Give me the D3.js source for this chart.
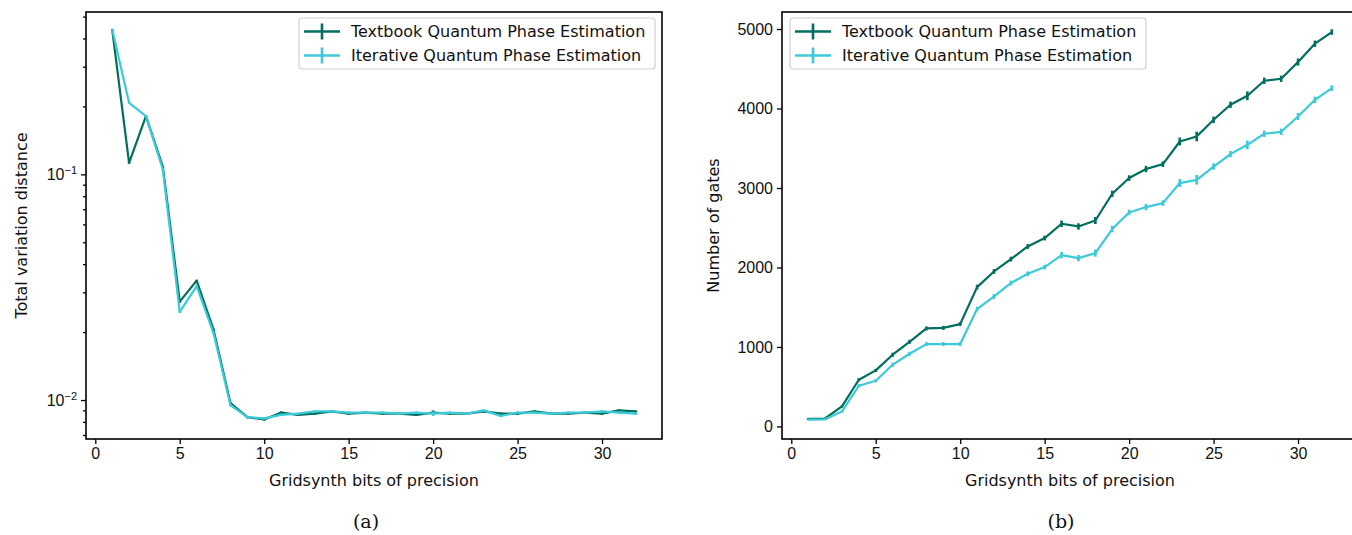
<!DOCTYPE html>
<html>
<head>
<meta charset="utf-8">
<script src="https://cdn.jsdelivr.net/npm/d3@7"></script>
<style>
  body { margin: 0; background: #fff; }
  svg { font-family: "DejaVu Sans", sans-serif; }
  .cap { font-family: "DejaVu Serif", "Liberation Serif", serif; }
</style>
</head>
<body>
<svg id="fig" width="1352" height="535"></svg>
<script>
// bits of precision passed to gridsynth
var bits = d3.range(1, 33);

// total variation distance (left panel)
var tvdTextbook = [0.439, 0.1125, 0.181, 0.108, 0.0273, 0.0338, 0.0205, 0.0097, 0.0084, 0.0082,
  0.0088, 0.0086, 0.0087, 0.0089, 0.0087, 0.0088, 0.0087, 0.0087, 0.0086, 0.0088,
  0.0087, 0.0087, 0.0089, 0.0087, 0.0087, 0.0089, 0.0087, 0.0087, 0.0088, 0.0087,
  0.0090, 0.0089];
var tvdIterative = [0.439, 0.2075, 0.181, 0.105, 0.0246, 0.032, 0.0198, 0.0095, 0.0084, 0.0083,
  0.0086, 0.0087, 0.0089, 0.0089, 0.0088, 0.0088, 0.0088, 0.0087, 0.0088, 0.0087,
  0.0088, 0.0087, 0.0090, 0.0085, 0.0088, 0.0088, 0.0087, 0.0088, 0.0088, 0.0089,
  0.0088, 0.0087];
var tvdErrTextbook = [0.002, 0.001, 0.001, 0.001, 0.0003, 0.0003, 0.0002, 0.0001, 0.0001, 0.0001,
  0.0001, 0.0001, 0.0001, 0.0001, 0.0001, 0.0001, 0.0001, 0.0001, 0.0001, 0.0002,
  0.0001, 0.0001, 0.0001, 0.0001, 0.0001, 0.0001, 0.0001, 0.0001, 0.0001, 0.0001,
  0.0001, 0.0001];
var tvdErrIterative = tvdErrTextbook;

// number of gates (right panel)
var gatesTextbook = [95, 100, 252, 587, 705, 902, 1065, 1233, 1240, 1288,
  1753, 1950, 2105, 2264, 2370, 2550, 2516, 2591, 2927, 3125,
  3238, 3300, 3585, 3648, 3858, 4047, 4160, 4349, 4374, 4584,
  4815, 4962];
var gatesIterative = [85, 90, 189, 512, 575, 776, 914, 1036, 1036, 1036,
  1477, 1635, 1804, 1921, 2005, 2155, 2118, 2181, 2483, 2692,
  2760, 2810, 3062, 3103, 3270, 3426, 3543, 3682, 3707, 3899,
  4109, 4256];
var gatesErrTextbook = [10, 10, 15, 20, 20, 25, 25, 25, 25, 25,
  30, 30, 30, 30, 30, 40, 40, 45, 40, 35,
  40, 35, 50, 60, 40, 40, 55, 40, 40, 45,
  40, 35];
var gatesErrIterative = [10, 10, 15, 20, 20, 25, 25, 25, 25, 25,
  30, 30, 30, 30, 30, 40, 40, 45, 40, 35,
  40, 35, 50, 60, 40, 40, 55, 40, 40, 45,
  40, 35];

var xTicks = [0, 5, 10, 15, 20, 25, 30];
var gateTicks = [0, 1000, 2000, 3000, 4000, 5000];
var seriesNames = ["Textbook Quantum Phase Estimation", "Iterative Quantum Phase Estimation"];
var colors = ["#006f5e", "#3ccad8"];

var svg = d3.select("#fig");
var FS = 16, INK = "#111";

function panel(opt) {
  var g = svg.append("g");
  var x = d3.scaleLinear().domain([-0.55, 33.55]).range([opt.left, opt.right]);
  var y = opt.log
    ? d3.scaleLog().domain(opt.ydom).range([opt.bottom, opt.top])
    : d3.scaleLinear().domain(opt.ydom).range([opt.bottom, opt.top]);

  // x axis
  var xa = g.append("g").attr("transform", "translate(0," + opt.bottom + ")")
    .call(d3.axisBottom(x).tickValues(xTicks).tickSize(5).tickPadding(4));
  xa.select(".domain").remove();
  xa.selectAll("line").attr("stroke", "#000").attr("stroke-width", 1.3);
  xa.selectAll("text").attr("font-size", FS).attr("fill", INK);

  // y axis
  var ya = g.append("g").attr("transform", "translate(" + opt.left + ",0)");
  if (opt.log) {
    var major = [0.01, 0.1];
    var minor = [];
    [0.001, 0.01, 0.1].forEach(function (d) {
      for (var k = 2; k <= 9; k++) {
        var v = d * k;
        if (v > opt.ydom[0] && v < opt.ydom[1]) minor.push(v);
      }
    });
    ya.call(d3.axisLeft(y).tickValues(minor).tickSize(3).tickFormat(""));
    var ym = g.append("g").attr("transform", "translate(" + opt.left + ",0)")
      .call(d3.axisLeft(y).tickValues(major).tickSize(5).tickPadding(4).tickFormat(""));
    ym.select(".domain").remove();
    ym.selectAll("line").attr("stroke", "#000").attr("stroke-width", 1.3);
    ym.selectAll(".tick").append("text")
      .attr("x", -9).attr("dy", "0.32em").attr("text-anchor", "end")
      .attr("font-size", FS).attr("fill", INK)
      .each(function (d) {
        var t = d3.select(this);
        t.append("tspan").text("10");
        t.append("tspan").attr("dy", "-0.55em").attr("font-size", 11)
          .text("\u2212" + Math.round(-Math.log10(d)));
      });
  } else {
    ya.call(d3.axisLeft(y).tickValues(opt.yticks).tickSize(5).tickPadding(4).tickFormat(d3.format("d")));
    ya.selectAll("text").attr("font-size", FS).attr("fill", INK);
  }
  ya.select(".domain").remove();
  ya.selectAll("line").attr("stroke", "#000").attr("stroke-width", 1.3);

  // data
  var line = d3.line().x(function (d) { return x(d[0]); }).y(function (d) { return y(d[1]); });
  opt.series.forEach(function (s, i) {
    var pts = bits.map(function (b, j) { return [b, s.vals[j], s.err[j]]; });
    g.append("path").datum(pts).attr("d", line)
      .attr("fill", "none").attr("stroke", colors[i]).attr("stroke-width", 2.2)
      .attr("stroke-linejoin", "round");
    g.selectAll(null).data(pts).enter().append("line")
      .attr("x1", function (d) { return x(d[0]); })
      .attr("x2", function (d) { return x(d[0]); })
      .attr("y1", function (d) { return y(d[1] - d[2]); })
      .attr("y2", function (d) { return y(d[1] + d[2]); })
      .attr("stroke", colors[i]).attr("stroke-width", 2.6);
  });

  // frame
  g.append("rect").attr("x", opt.left).attr("y", opt.top)
    .attr("width", opt.right - opt.left).attr("height", opt.bottom - opt.top)
    .attr("fill", "none").attr("stroke", "#000").attr("stroke-width", 1.6);

  // axis labels
  g.append("text").attr("x", (opt.left + opt.right) / 2).attr("y", opt.bottom + 47)
    .attr("text-anchor", "middle").attr("font-size", FS).attr("fill", INK)
    .text("Gridsynth bits of precision");
  g.append("text")
    .attr("transform", "translate(" + opt.ylabX + "," + (opt.top + opt.bottom) / 2 + ") rotate(-90)")
    .attr("text-anchor", "middle").attr("font-size", FS).attr("fill", INK)
    .text(opt.ylabel);

  // legend
  var lg = g.append("g").attr("transform", "translate(" + opt.legX + ",18)");
  lg.append("rect").attr("x", 0).attr("y", 0).attr("width", 356).attr("height", 51)
    .attr("rx", 3).attr("fill", "#fff").attr("fill-opacity", 0.8)
    .attr("stroke", "#d0d0d0").attr("stroke-width", 1.2);
  seriesNames.forEach(function (name, i) {
    var cy = 13.5 + i * 24;
    lg.append("line").attr("x1", 5).attr("x2", 41).attr("y1", cy).attr("y2", cy)
      .attr("stroke", colors[i]).attr("stroke-width", 2.6);
    lg.append("line").attr("x1", 23).attr("x2", 23).attr("y1", cy - 8).attr("y2", cy + 8)
      .attr("stroke", colors[i]).attr("stroke-width", 2.6);
    lg.append("text").attr("x", 52).attr("y", cy).attr("dy", "0.36em")
      .attr("font-size", FS).attr("fill", INK).text(name);
  });

  // sub caption
  svg.append("text").attr("class", "cap").attr("x", opt.capX).attr("y", 528)
    .attr("text-anchor", "middle").attr("font-size", 19).attr("fill", INK)
    .text(opt.cap);
}

panel({
  left: 86, right: 662, top: 12, bottom: 439,
  log: true, ydom: [0.00672, 0.524],
  ylabel: "Total variation distance", ylabX: 27,
  legX: 299, capX: 366, cap: "(a)",
  series: [
    { vals: tvdTextbook, err: tvdErrTextbook },
    { vals: tvdIterative, err: tvdErrIterative }
  ]
});

panel({
  left: 782, right: 1358, top: 12, bottom: 439,
  log: false, ydom: [-158, 5214], yticks: gateTicks,
  ylabel: "Number of gates", ylabX: 719,
  legX: 790, capX: 1061, cap: "(b)",
  series: [
    { vals: gatesTextbook, err: gatesErrTextbook },
    { vals: gatesIterative, err: gatesErrIterative }
  ]
});
</script>
</body>
</html>
